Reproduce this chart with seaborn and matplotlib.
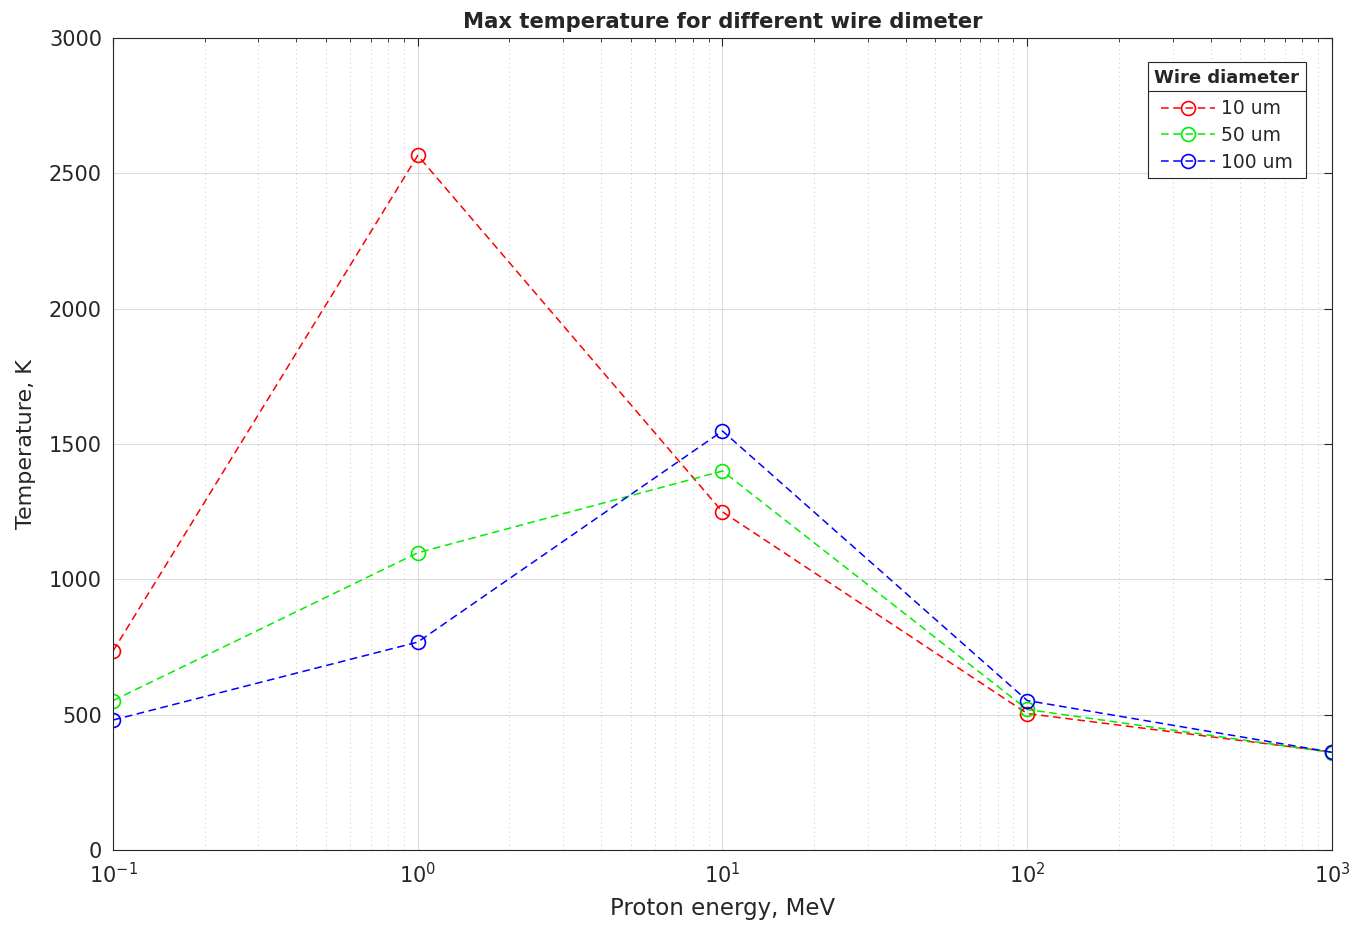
import numpy as np
import pandas as pd
import matplotlib
matplotlib.use("Agg")
import matplotlib.pyplot as plt
import seaborn as sns
from matplotlib.ticker import LogLocator, FixedLocator
from matplotlib.lines import Line2D

energy = [0.1, 1, 10, 100, 1000]
t_10um = [735, 2566, 1249, 504, 362]
t_50um = [552, 1098, 1400, 519, 360]
t_100um = [480, 768, 1548, 552, 361]
series_names = ["10 um", "50 um", "100 um"]
colors = ["#ff0000", "#00ee00", "#0000ff"]
xtick_labels = [r"$10^{-1}$", r"$10^{0}$", r"$10^{1}$", r"$10^{2}$", r"$10^{3}$"]
ytick_vals = [0, 500, 1000, 1500, 2000, 2500, 3000]

df = pd.DataFrame({
    "energy": energy * 3,
    "temp": t_10um + t_50um + t_100um,
    "wire": sum([[n] * len(energy) for n in series_names], []),
})

sns.set_style("white")
plt.rcParams['font.family'] = ['DejaVu Sans']
plt.rcParams['mathtext.fontset'] = 'dejavusans'

fig = plt.figure(figsize=(13.55, 9.27), dpi=100)
ax = fig.add_axes([0.0834, 0.0831, 0.8996, 0.8759])

sns.lineplot(data=df, x="energy", y="temp", hue="wire", hue_order=series_names,
             palette=colors, marker="o", markersize=10, markerfacecolor="none",
             markeredgewidth=1.2, linestyle=(0, (5, 3)), linewidth=1.1,
             legend=False, ax=ax)
for ln, c in zip(ax.get_lines(), colors):
    ln.set_markeredgecolor(c)
    ln.set_linestyle((0, (5, 3)))

ax.set_xscale("log")
ax.set_xlim(0.1, 1000)
ax.set_ylim(0, 3000)
ax.xaxis.set_major_locator(FixedLocator(energy))
ax.set_xticklabels(xtick_labels)
ax.xaxis.set_minor_locator(LogLocator(base=10, subs=np.arange(2, 10)))
ax.yaxis.set_major_locator(FixedLocator(ytick_vals))

ax.grid(True, which="major", color="#dcdcdc", linewidth=0.8, linestyle="-")
ax.grid(True, which="minor", axis="x", color="#d0d0d0", linewidth=0.8, linestyle=(0, (1, 3)))
ax.set_axisbelow(True)

for s in ax.spines.values():
    s.set_visible(True)
    s.set_color("#262626")
    s.set_linewidth(0.8)

ax.tick_params(which="both", direction="in", top=True, right=True, colors="#262626",
               labelsize=15)
ax.tick_params(which="major", length=6)
ax.tick_params(which="minor", length=3)
ax.tick_params(axis="x", pad=9)
ax.tick_params(axis="y", pad=8)

ax.set_xlabel("Proton energy, MeV", fontsize=16.5, color="#262626", labelpad=7)
ax.set_ylabel("Temperature, K", fontsize=16, color="#262626", labelpad=9)
ax.set_title("Max temperature for different wire dimeter", fontsize=15.2,
             fontweight="bold", pad=7)

handles = [Line2D([], [], color=c, linestyle=(0, (5, 3)), marker="o", markersize=10,
                  markerfacecolor="none", markeredgewidth=1.2, linewidth=1.1)
           for c in colors]
leg = ax.legend(handles, series_names, title="Wire diameter", loc="upper right",
                bbox_to_anchor=(0.9787, 0.9704), borderaxespad=0,
                fontsize=13.5, title_fontsize=13,
                frameon=True, fancybox=False, edgecolor="#262626", framealpha=1,
                handlelength=2.9, handletextpad=0.3, borderpad=0.35,
                labelspacing=0.42)
leg.get_title().set_fontweight("bold")
leg._legend_box.sep = 9
leg.get_frame().set_linewidth(0.8)

fig.canvas.draw()
bb = leg.get_window_extent()
tb = leg.get_title().get_window_extent()
inv = fig.transFigure.inverted()
(x0, y0), (x1, y1) = inv.transform([[bb.x0, tb.y0 - 4], [bb.x1, tb.y0 - 4]])
fig.add_artist(Line2D([x0, x1], [y0, y1], color="#262626", linewidth=0.8,
                      transform=fig.transFigure))

fig.savefig("out.png", dpi=100, facecolor="white")
